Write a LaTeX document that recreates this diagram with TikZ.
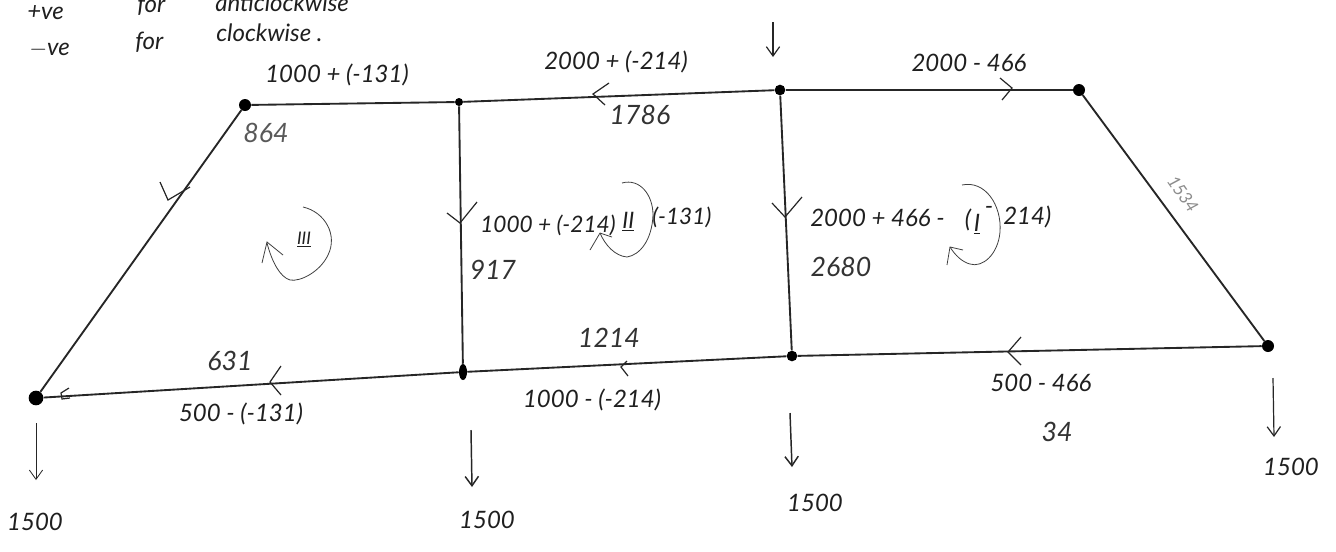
\documentclass[tikz,border=0pt]{standalone}
\usepackage{fontspec}
\setmainfont{Lato}
\usetikzlibrary{arrows.meta,shapes.geometric}
\tikzset{
  hand/.style={font=\itshape\fontsize{18}{20}\selectfont,inner sep=0pt,text=black!88},
  handb/.style={font=\itshape\fontsize{20}{22}\selectfont,inner sep=0pt,text=black!80},
  handm/.style={font=\itshape\fontsize{17}{19}\selectfont,inner sep=0pt,text=black!88},
  member/.style={line width=1.4pt,black!85},
  joint/.style={circle,fill=black,inner sep=0pt,minimum size=7.5pt},
  load/.style={line width=.9pt,black!85,-{Straight Barb[length=7pt,width=10pt]}},
  tick/.style={line width=.9pt,black!85},
  loopmark/.style={line width=.6pt,black!75}
}
\begin{document}
\begin{tikzpicture}[x=0.75pt,y=-0.75pt]
\useasboundingbox (0,0) rectangle (1336,551);
\clip (0,0) rectangle (1336,551);
\fill[white] (0,0) rectangle (1336,551);
% joints
\node[joint,minimum size=9pt] (A) at (245,105) {};
\node[joint,minimum size=6pt] (B) at (459,102) {};
\node[joint,minimum size=8pt] (C) at (780,90) {};
\node[joint,minimum size=9pt] (D) at (1079,90) {};
\node[joint,minimum size=9pt] (E) at (1268,346) {};
\node[joint,minimum size=8pt] (F) at (792,356) {};
\node[ellipse,fill=black,inner sep=0pt,minimum width=6pt,minimum height=12pt] (G) at (463,372) {};
\node[joint,minimum size=11pt] (H) at (36,398) {};
% members
\draw[member] (A) -- (B);
\draw[member] (B) -- (C);
\draw[member] (C) -- (D);
\draw[member] (D) -- (E);
\draw[member] (E) -- (F);
\draw[member] (F) -- (G);
\draw[member] (G) -- (H);
\draw[member] (H) -- (A);
\draw[member] (B) -- (G);
\draw[member] (C) -- (F);
% direction ticks
\draw[tick] (609,83) -- (593,94) -- (605,105);
\draw[tick] (1000,78) -- (1012,88) -- (1002,100);
\draw[tick] (160,182) -- (168,200) -- (190,187);
\draw[tick] (447,213) -- (460,223) -- (477,202);
\draw[tick] (772,203) -- (785,217) -- (802,197);
\draw[tick] (1021,337) -- (1008,352) -- (1021,365);
\draw[tick] (627,361) -- (621,367) -- (628,376);
\draw[tick] (281,366) -- (270,382) -- (281,395);
\draw[tick] (69,388) -- (61,393) -- (62,399) -- (70,398);
% loads
\coordinate (ct) at (773,22); \coordinate (cb) at (773,57);
\coordinate (ht) at (36,423); \coordinate (hb) at (36,480);
\coordinate (gt) at (471,430); \coordinate (gb) at (472,487);
\coordinate (ft) at (790,413); \coordinate (fb) at (792,467);
\coordinate (et) at (1273,378); \coordinate (eb) at (1274,437);
\draw[load] (ct) -- (cb);
\draw[load,line width=.6pt] (ht) -- (hb);
\draw[load,line width=1.1pt] (gt) -- (gb);
\draw[load,line width=1.1pt] (ft) -- (fb);
\draw[load] (et) -- (eb);
% top note
\node[hand,anchor=west] (n1) at (27,13) {+ve};
\node[hand,anchor=west] (n2) at (137,5) {for};
\node[hand,anchor=west] (n3) at (215,3) {anticlockwise};
\node[hand,anchor=west] (n4) at (29,50) {$-$ve};
\node[hand,anchor=west] (n5) at (135,42) {for};
\node[hand,anchor=west] (n6) at (216,33) {clockwise .};
% member labels
\node[hand] (t1) at (337,75) {1000 + (-131)};
\node[hand] (t2) at (616,62) {2000 + (-214)};
\node[hand] (t3) at (969,63) {2000 - 466};
\node[handb] (v1) at (640,115) {1786};
\node[handb,text=black!65] (v2) at (266,133) {864};
\node[rotate=-55,inner sep=0pt,text=black!45,font=\itshape\fontsize{13}{15}\selectfont] (v3) at (1183,194) {1534};
\node[handm,anchor=west] (m1) at (480,225) {1000 + (-214)};
\node[handm,anchor=west] (m2) at (622,222) {\underline{II}};
\node[handm,anchor=west] (m3) at (652,217) {(-131)};
\node[handb] (v4) at (493,270) {917};
\node[hand,anchor=west] (m4) at (810,218) {2000 + 466 -};
\node[hand] (m5) at (968,220) {(};
\node[hand] (m6) at (977,224) {\underline{I}};
\node[hand] (m7) at (989,210) {-};
\node[hand,anchor=west] (m8) at (1003,217) {214)};
\node[handb] (v5) at (841,267) {2680};
\node[handb] (v6) at (609,338) {1214};
\node[hand] (b1) at (592,400) {1000 - (-214)};
\node[handb] (v7) at (230,361) {631};
\node[hand] (b2) at (241,414) {500 - (-131)};
\node[hand] (b3) at (1041,383) {500 - 466};
\node[handb] (v8) at (1057,432) {34};
% load labels
\node[hand] (l1) at (35,522) {1500};
\node[hand] (l2) at (487,520) {1500};
\node[hand] (l3) at (815,503) {1500};
\node[hand] (l4) at (1291,467) {1500};
% loop markers
\node[handm,font=\itshape\fontsize{13}{15}\selectfont] (r3) at (304,240) {\underline{III}};
\draw[loopmark] (303,207) .. controls (325,212) and (338,235) .. (328,255) .. controls (320,272) and (300,282) .. (290,280) .. controls (280,277) and (272,262) .. (267,243);
\draw[loopmark] (262,263) -- (267,242) -- (283,255);
\draw[loopmark] (622,183) .. controls (640,178) and (653,195) .. (653,215) .. controls (652,240) and (640,255) .. (627,257) .. controls (615,256) and (605,245) .. (600,233);
\draw[loopmark] (590,250) -- (600,233) -- (612,237);
\draw[loopmark] (962,185) .. controls (985,180) and (1002,205) .. (1000,232) .. controls (998,255) and (982,268) .. (970,264) .. controls (962,262) and (955,255) .. (950,247);
\draw[loopmark] (947,265) -- (950,247) -- (963,250);
\end{tikzpicture}
\end{document}
